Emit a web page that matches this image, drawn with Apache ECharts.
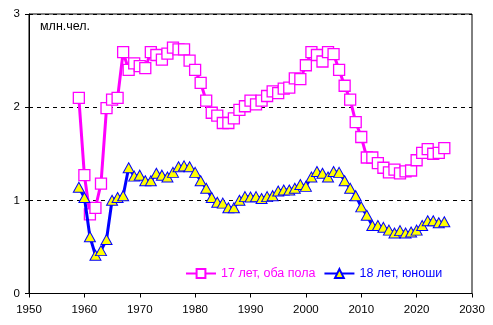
<!DOCTYPE html>
<html>
<head>
<meta charset="utf-8">
<script src="https://cdn.jsdelivr.net/npm/echarts@6/dist/echarts.min.js"></script>
<style>html,body{margin:0;padding:0;background:#fff;}#c{width:493px;height:325px;}</style>
</head>
<body>
<div id="c"></div>
<script>
var years = [];
for (var y = 1959; y <= 2025; y++) years.push(y);

var name17 = '17 лет, оба пола';
var name18 = '18 лет, юноши';
var unitLabel = 'млн.чел.';

var both17 = [
  2.10, 1.27, 0.85, 0.92, 1.18, 1.99, 2.08, 2.10, 2.59, 2.40,
  2.47, 2.44, 2.42, 2.59, 2.56, 2.51, 2.575, 2.64, 2.62, 2.62,
  2.50, 2.40, 2.26, 2.07, 1.94, 1.91, 1.83, 1.83, 1.88, 1.97,
  2.01, 2.07, 2.03, 2.07, 2.12, 2.17, 2.15, 2.20, 2.21, 2.31,
  2.30, 2.45, 2.59, 2.56, 2.49, 2.59, 2.57, 2.40, 2.23, 2.08,
  1.84, 1.68, 1.46, 1.46, 1.40, 1.35, 1.30, 1.33, 1.29, 1.31,
  1.32, 1.43, 1.51, 1.55, 1.50, 1.51, 1.56
];

var boys18 = [
  1.14, 1.03, 0.61, 0.41, 0.46, 0.58, 1.00, 1.03, 1.05, 1.35,
  1.26, 1.27, 1.21, 1.21, 1.29, 1.27, 1.25, 1.30, 1.36, 1.37,
  1.36, 1.30, 1.21, 1.13, 1.03, 0.98, 0.97, 0.92, 0.92, 1.00,
  1.04, 1.035, 1.04, 1.02, 1.04, 1.05, 1.10, 1.11, 1.11, 1.13,
  1.17, 1.15, 1.25, 1.31, 1.29, 1.25, 1.31, 1.30, 1.21, 1.13,
  1.05, 0.93, 0.84, 0.73, 0.73, 0.71, 0.68, 0.65, 0.675, 0.65,
  0.66, 0.68, 0.73, 0.78, 0.78, 0.76, 0.77
];

function pairs(xs, ys) {
  var out = [];
  for (var i = 0; i < xs.length; i++) out.push([xs[i], ys[i]]);
  return out;
}

var FONT = '"Liberation Sans", Arial, sans-serif';
var chart = echarts.init(document.getElementById('c'), null, {renderer: 'canvas'});
chart.setOption({
  animation: false,
  backgroundColor: '#ffffff',
  title: {
    text: unitLabel,
    left: 40, top: 20, padding: 0,
    textStyle: {fontFamily: FONT, fontSize: 12.5, fontWeight: 'normal', color: '#000'}
  },
  grid: {
    left: 29, right: 21, top: 14, bottom: 31.5,
    show: true, borderColor: '#000', borderWidth: 1, backgroundColor: 'transparent'
  },
  legend: {
    left: 185, top: 267, padding: 0, itemGap: 8,
    itemWidth: 30, itemHeight: 11,
    textStyle: {fontFamily: FONT, fontSize: 12.5},
    data: [
      {name: name17, textStyle: {color: '#FF00FF'}},
      {name: name18, textStyle: {color: '#0000FF'}}
    ]
  },
  xAxis: {
    type: 'value', min: 1950, max: 2030, interval: 10,
    axisLine: {show: true, lineStyle: {color: '#000', width: 1}},
    axisTick: {show: true, length: 4, lineStyle: {color: '#000'}},
    axisLabel: {fontFamily: FONT, fontSize: 11.5, color: '#000', margin: 10,
      formatter: function (v) { return String(v); }},
    splitLine: {show: false}
  },
  yAxis: {
    type: 'value', min: 0, max: 3, interval: 1,
    axisLine: {show: true, lineStyle: {color: '#000', width: 1}},
    axisTick: {show: true, length: 4, lineStyle: {color: '#000'}},
    axisLabel: {fontFamily: FONT, fontSize: 11.5, color: '#000', margin: 9},
    splitLine: {show: true, lineStyle: {color: '#000', type: [4, 4], width: 1}}
  },
  series: [
    {
      name: name17, type: 'line', data: pairs(years, both17),
      symbol: 'rect', symbolSize: 11, showAllSymbol: true,
      lineStyle: {color: '#FF00FF', width: 3},
      itemStyle: {color: '#FFFFFF', borderColor: '#FF00FF', borderWidth: 1.3},
      z: 2
    },
    {
      name: name18, type: 'line', data: pairs(years, boys18),
      symbol: 'triangle', symbolSize: [11, 10], showAllSymbol: true,
      lineStyle: {color: '#0000FF', width: 3},
      itemStyle: {color: '#FFFF00', borderColor: '#0000FF', borderWidth: 1},
      z: 3
    }
  ]
});
</script>
</body>
</html>
